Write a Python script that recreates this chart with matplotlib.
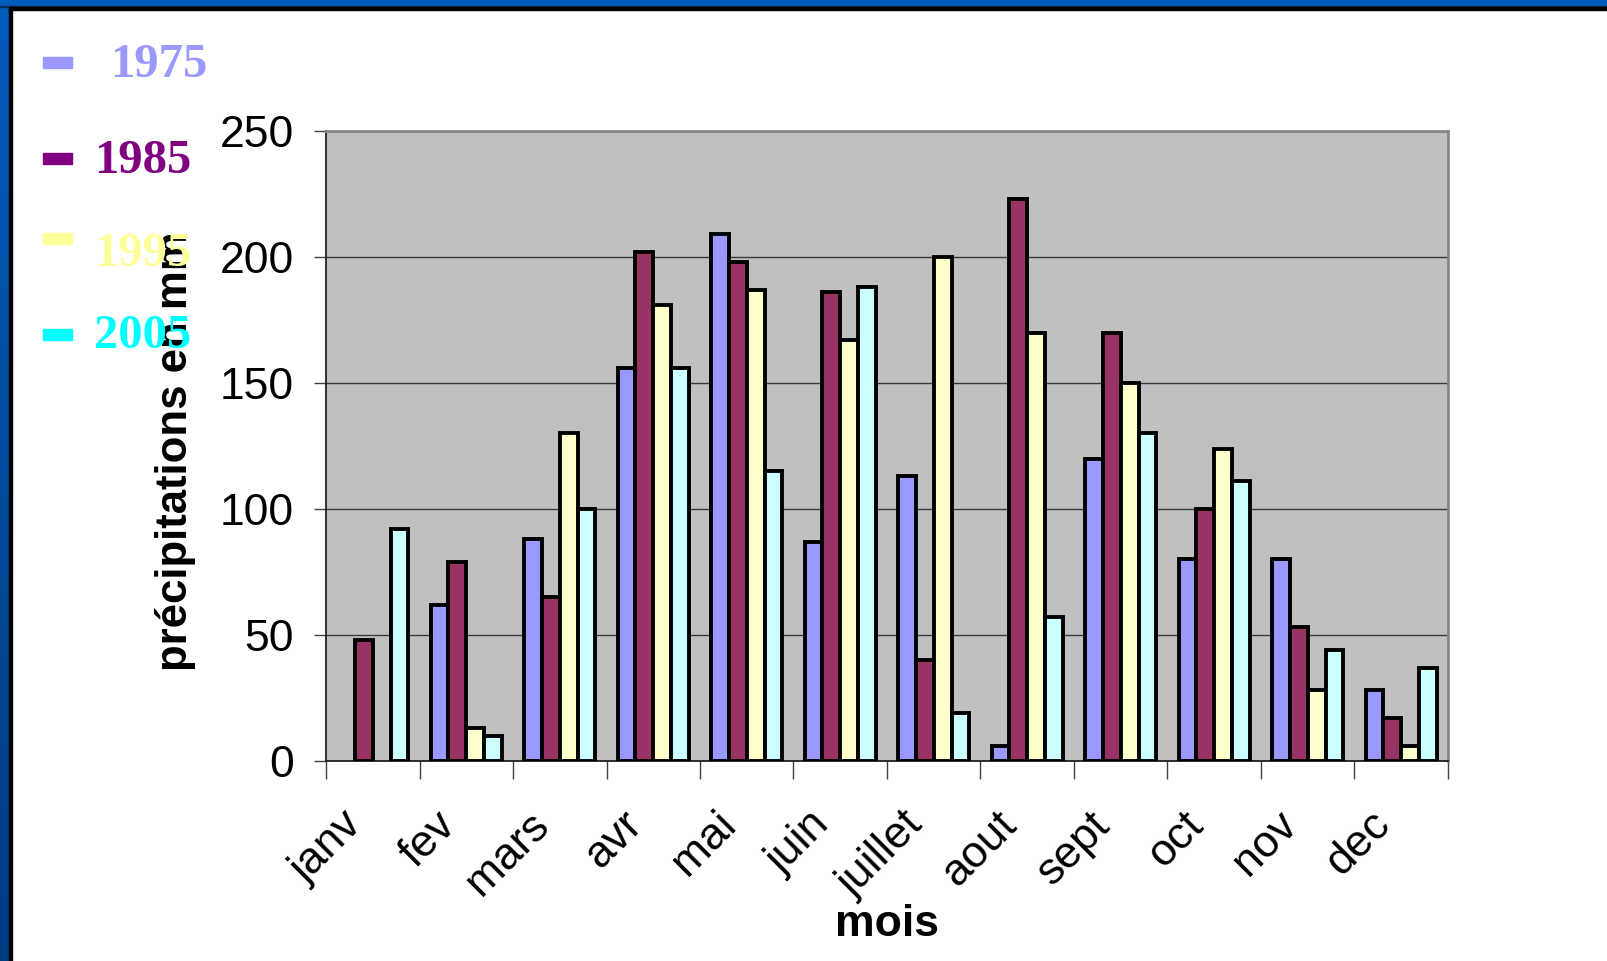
import numpy as np
import matplotlib
matplotlib.use("Agg")
import matplotlib.pyplot as plt
from matplotlib.patches import Rectangle
from matplotlib.colors import LinearSegmentedColormap

# Monthly precipitation (mm) for four years
months = ["janv", "fev", "mars", "avr", "mai", "juin",
          "juillet", "aout", "sept", "oct", "nov", "dec"]
years = ["1975", "1985", "1995", "2005"]
p1975 = [0, 62, 88, 156, 209, 87, 113, 6, 120, 80, 80, 28]
p1985 = [48, 79, 65, 202, 198, 186, 40, 223, 170, 100, 53, 17]
p1995 = [0, 13, 130, 181, 187, 167, 200, 170, 150, 124, 28, 6]
p2005 = [92, 10, 100, 156, 115, 188, 19, 57, 130, 111, 44, 37]
yticks = [0, 50, 100, 150, 200, 250]

bar_colors = ["#9999FF", "#993366", "#FFFFCC", "#CCFFFF"]
key_colors = ["#9999FF", "#800080", "#FFFF99", "#00FFFF"]

W, H = 1607, 961
fig = plt.figure(figsize=(W / 100, H / 100), dpi=100, facecolor="white")

# Frame: blue bands with black inner lines on the top and left sides
grad = fig.add_axes([0, 0, 9 / W, 1])
grad.axis("off")
cmap = LinearSegmentedColormap.from_list("band", ["#003C82", "#005BBB"])
grad.imshow(np.linspace(0, 1, 200).reshape(-1, 1), aspect="auto",
            cmap=cmap, origin="lower", extent=[0, 1, 0, 1])
fig.patches.append(Rectangle((0, 1 - 6 / H), 1, 6 / H, transform=fig.transFigure,
                             color="#005BBB", zorder=5))
fig.patches.append(Rectangle((0, 1 - 7 / H), 1, 1 / H, transform=fig.transFigure,
                             color="#0A2E5C", zorder=5))
fig.patches.append(Rectangle((9 / W, 1 - 10 / H), 1, 3 / H, transform=fig.transFigure,
                             color="black", zorder=5))
fig.patches.append(Rectangle((9 / W, 0), 3 / W, 1 - 7 / H, transform=fig.transFigure,
                             color="black", zorder=5))

ax = fig.add_axes([326 / W, 1 - 761 / H, (1448 - 326) / W, (761 - 131) / H])
ax.set_facecolor("#C0C0C0")

x = np.arange(len(months))
bw = 0.19
series = [p1975, p1985, p1995, p2005]
for i, (vals, col) in enumerate(zip(series, bar_colors)):
    bars = ax.bar(x + (i - 1.5) * bw, vals, width=bw, color=col,
                  edgecolor="black", linewidth=2.8, zorder=3)
    for b, v in zip(bars, vals):
        if v == 0:
            b.set_linewidth(0)

ax.set_xlim(-0.5, len(months) - 0.5)
ax.set_ylim(0, 250)
ax.set_yticks(yticks)
ax.yaxis.grid(True, color="#3a3a3a", linewidth=1.0, zorder=1)
ax.set_axisbelow(True)

# month names sit slightly left of each group, rotated 45 degrees
ax.set_xticks(x - 0.34)
ax.set_xticklabels(months, rotation=45, ha="right", va="top",
                   rotation_mode="anchor", fontsize=32, family="Liberation Sans")
ax.set_xticks(np.arange(-0.5, len(months)), minor=True)
ax.tick_params(axis="x", which="major", length=0, pad=31)
ax.tick_params(axis="x", which="minor", length=13, width=1.0, color="#404040")
ax.tick_params(axis="y", length=9, width=1.0, color="#404040", pad=14)
for lab in ax.get_yticklabels():
    lab.set_fontsize(32)
    lab.set_family("Liberation Sans")

for side in ("left", "bottom"):
    ax.spines[side].set_color("#202020")
    ax.spines[side].set_linewidth(1.3)
for side in ("top", "right"):
    ax.spines[side].set_color("#888888")
    ax.spines[side].set_linewidth(2.0)

fig.text(887 / W, 1 - 924 / H, "mois", fontsize=32, fontweight="bold",
         family="Liberation Sans", ha="center", va="center")
fig.text(175 / W, 1 - 451 / H, "précipitations en mm", fontsize=31.5,
         fontweight="bold", family="Liberation Sans", rotation=90,
         ha="center", va="center", zorder=2)

# Year key on the left
key_y = [63, 159, 239, 335]
txt_y = [65, 161, 254, 336]
txt_x = [110, 94, 94, 94]
for yr, col, ky, ty, tx in zip(years, key_colors, key_y, txt_y, txt_x):
    fig.patches.append(Rectangle((43 / W, 1 - (ky + 5) / H), 29 / W, 11 / H,
                                 transform=fig.transFigure, color=col, zorder=6))
    fig.text(tx / W, 1 - ty / H, yr, fontsize=35, fontweight="bold",
             family="Liberation Serif", color=col, ha="left", va="center",
             zorder=10)

fig.savefig("out.png", dpi=100, facecolor="white")
